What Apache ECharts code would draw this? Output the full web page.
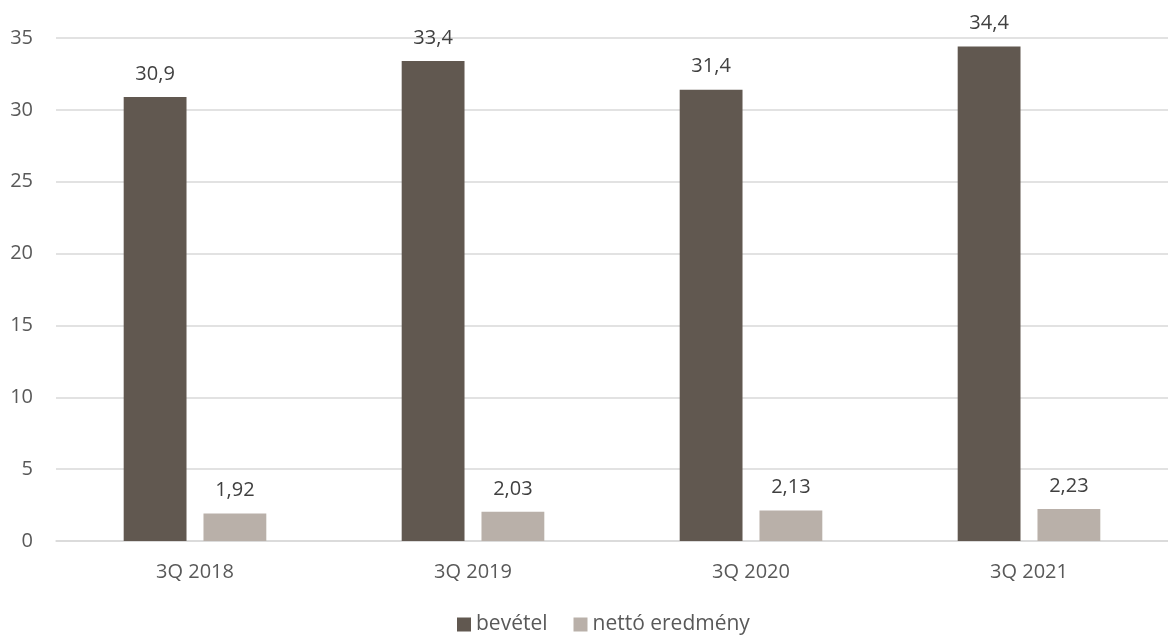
<!DOCTYPE html>
<html><head><meta charset="utf-8">
<script src="https://cdn.jsdelivr.net/npm/echarts@6/dist/echarts.min.js"></script>
<style>html,body{margin:0;padding:0;background:#fff}#c{width:1168px;height:636px}</style>
</head><body><div id="c"></div>
<script>
const categories = ['3Q 2018', '3Q 2019', '3Q 2020', '3Q 2021'];
const revenue = [30.9, 33.4, 31.4, 34.4];
const netResult = [1.92, 2.03, 2.13, 2.23];
const seriesNames = ['bevétel', 'nettó eredmény'];
const yTicks = { min: 0, max: 35, interval: 5 };

const font = 'Open Sans';
const fmt = p => String(p.value).replace('.', ',');
const chart = echarts.init(document.getElementById('c'));
chart.setOption({
  animation: false,
  textStyle: { fontFamily: font },
  grid: { left: 56, right: -4, top: 38, bottom: 95, containLabel: false },
  legend: {
    top: 609, left: 452, itemWidth: 14, itemHeight: 14, itemGap: 26,
    icon: 'rect',
    textStyle: { fontSize: 21, color: '#595959', fontFamily: font },
    data: seriesNames
  },
  xAxis: {
    type: 'category', data: categories,
    axisLine: { lineStyle: { color: '#d9d9d9', width: 1.5 } },
    axisTick: { show: false },
    axisLabel: { fontSize: 20, color: '#595959', margin: 21 }
  },
  yAxis: {
    type: 'value', min: yTicks.min, max: yTicks.max, interval: yTicks.interval,
    axisLine: { show: false }, axisTick: { show: false },
    splitLine: { lineStyle: { color: '#d9d9d9', width: 1.5 } },
    axisLabel: { fontSize: 20, color: '#595959', margin: 23 }
  },
  series: [
    { name: seriesNames[0], type: 'bar', data: revenue, barWidth: '22.6%', barGap: '27%',
      itemStyle: { color: '#615850' },
      label: { show: true, position: 'top', distance: 13, fontSize: 20, color: '#404040', formatter: fmt } },
    { name: seriesNames[1], type: 'bar', data: netResult, barWidth: '22.6%', barGap: '27%',
      itemStyle: { color: '#b9b0a9' },
      label: { show: true, position: 'top', distance: 13, fontSize: 20, color: '#404040', formatter: fmt } }
  ]
});
</script></body></html>
